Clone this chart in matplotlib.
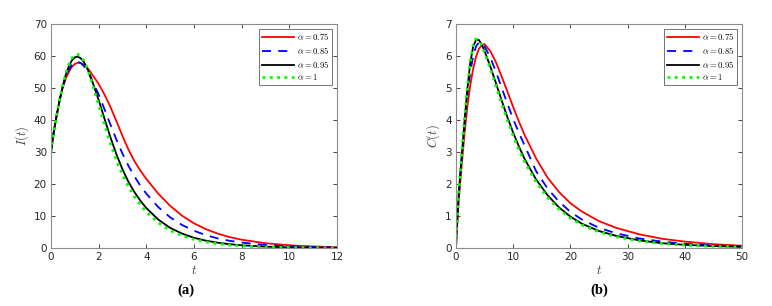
import numpy as np
import matplotlib
matplotlib.use('Agg')
import matplotlib.pyplot as plt

plt.rcParams['mathtext.fontset'] = 'cm'
plt.rcParams['font.family'] = ['DejaVu Sans']

# Panel (a): I(t)
t_a = [0, 0.125, 0.25, 0.375, 0.5, 0.625, 0.75, 0.875, 1, 1.125, 1.25, 1.375, 1.5, 1.625,
       1.75, 2, 2.25, 2.5, 2.75, 3, 3.25, 3.5, 3.75, 4, 4.5, 5, 5.5, 6, 6.5, 7, 7.5, 8,
       9, 10, 11, 12]
I_075 = [30, 36.8, 42, 46.6, 50.3, 53, 55, 56.6, 57.5, 57.9, 57.8, 57.3, 56.5, 55.4,
         54, 51.3, 47.9, 44, 39.6, 35, 30.8, 27.2, 24.2, 21.6, 17, 13.2, 10.1, 7.7, 5.9,
         4.5, 3.4, 2.6, 1.5, 0.85, 0.48, 0.27]
I_085 = [30, 36.6, 41.8, 46.5, 50.5, 53.5, 55.7, 57.2, 58, 58.2, 57.8, 56.9, 55.6, 54,
         52, 48, 43.3, 38.5, 33.8, 29.5, 25.7, 22.4, 19.5, 17, 12.8, 9.6, 7.2, 5.4, 4.0,
         3.0, 2.25, 1.7, 0.95, 0.55, 0.32, 0.18]
I_095 = [30, 36.5, 41.8, 46.6, 50.8, 54.2, 56.8, 58.6, 59.6, 59.8, 59.3, 58.2, 56.5, 54.3,
         51.7, 46.3, 40.3, 34.5, 29.2, 24.6, 20.7, 17.5, 14.8, 12.5, 8.9, 6.3, 4.5, 3.2,
         2.3, 1.65, 1.2, 0.85, 0.42, 0.2, 0.1, 0.05]
I_1 = [30, 36.5, 41.9, 46.8, 51, 54.6, 57.4, 59.3, 60.4, 60.5, 59.9, 58.6, 56.6, 54,
       51, 44.8, 38.5, 32.5, 27.3, 22.9, 19.2, 16.1, 13.5, 11.3, 7.9, 5.5, 3.85, 2.7,
       1.9, 1.33, 0.93, 0.65, 0.3, 0.14, 0.06, 0.03]

# Panel (b): C(t)
t_b = [0, 0.25, 0.5, 1, 1.5, 2, 2.5, 3, 3.5, 4, 4.5, 5, 6, 7, 8, 9, 10, 11, 12, 14, 16,
       18, 20, 22, 25, 28, 32, 36, 40, 45, 50]
C_075 = [0.1, 0.85, 1.55, 2.6, 3.6, 4.45, 5.1, 5.6, 5.98, 6.22, 6.35, 6.37, 6.15, 5.8,
         5.35, 4.88, 4.4, 3.95, 3.53, 2.8, 2.2, 1.75, 1.4, 1.14, 0.84, 0.63, 0.43, 0.29,
         0.2, 0.12, 0.07]
C_085 = [0.1, 0.95, 1.7, 2.8, 3.85, 4.8, 5.5, 6.0, 6.3, 6.43, 6.4, 6.3, 5.95, 5.5, 5.0,
         4.5, 4.03, 3.6, 3.2, 2.4, 1.86, 1.45, 1.13, 0.89, 0.63, 0.46, 0.3, 0.2, 0.13,
         0.08, 0.05]
C_095 = [0.1, 1.0, 1.78, 2.9, 4.0, 5.0, 5.8, 6.3, 6.5, 6.5, 6.36, 6.15, 5.67, 5.14, 4.6,
         4.08, 3.6, 3.17, 2.78, 2.14, 1.65, 1.27, 0.98, 0.76, 0.53, 0.38, 0.24, 0.15, 0.1,
         0.06, 0.035]
C_1 = [0.1, 1.0, 1.8, 2.95, 4.05, 5.05, 5.85, 6.35, 6.53, 6.5, 6.33, 6.1, 5.6, 5.05,
       4.5, 3.98, 3.5, 3.07, 2.69, 2.06, 1.58, 1.21, 0.93, 0.72, 0.5, 0.35, 0.22, 0.14,
       0.09, 0.05, 0.03]

labels = [r'$\alpha = 0.75$', r'$\alpha = 0.85$', r'$\alpha = 0.95$', r'$\alpha = 1$']

fig = plt.figure(figsize=(7.72, 3.06), dpi=100)
ax1 = fig.add_axes([0.066, 0.1895, 0.3705, 0.732])
ax2 = fig.add_axes([0.5907, 0.1895, 0.3705, 0.732])


def draw(ax, t, ys, xlim, ylim, xticks, yticks, ylab):
    ax.plot(t, ys[0], '-', color='#ff0000', lw=1.3, label=labels[0])
    ax.plot(t, ys[1], '--', color='#0000ff', lw=1.3, dashes=(5, 4), label=labels[1])
    ax.plot(t, ys[2], '-', color='#000000', lw=1.3, label=labels[2])
    ax.plot(t, ys[3], ':', color='#00ff00', lw=2.0, label=labels[3])
    ax.set_xlim(*xlim)
    ax.set_ylim(*ylim)
    ax.set_xticks(xticks)
    ax.set_yticks(yticks)
    ax.tick_params(direction='in', length=3, width=0.6, top=True, right=True,
                   labelsize=7.5, colors='#262626', pad=3)
    for s in ax.spines.values():
        s.set_color('#8c8c8c')
        s.set_linewidth(0.8)
    ax.set_xlabel(r'$t$', fontsize=9, color='#404040', labelpad=1)
    ax.set_ylabel(ylab, fontsize=9, color='#404040', labelpad=2)
    leg = ax.legend(loc='upper right', fontsize=6.3, frameon=True, fancybox=False,
                    edgecolor='#333333', handlelength=3.6, handletextpad=0.4,
                    borderpad=0.3, labelspacing=0.3, borderaxespad=0.55)
    leg.get_frame().set_linewidth(0.6)


draw(ax1, t_a, [I_075, I_085, I_095, I_1], (0, 12), (0, 70),
     range(0, 13, 2), range(0, 71, 10), r'$I(t)$')
draw(ax2, t_b, [C_075, C_085, C_095, C_1], (0, 50), (0, 7),
     range(0, 51, 10), range(0, 8), r'$C(t)$')

fig.text(0.241, 0.04, '(a)', fontsize=10.5, fontweight='bold',
         family='Liberation Serif', ha='center')
fig.text(0.776, 0.04, '(b)', fontsize=10.5, fontweight='bold',
         family='Liberation Serif', ha='center')

fig.savefig('out.png', dpi=100)
